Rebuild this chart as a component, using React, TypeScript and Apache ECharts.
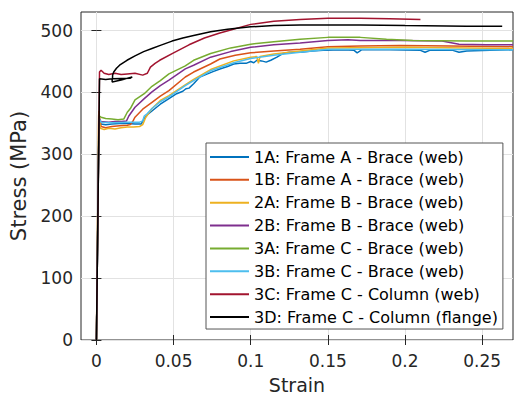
import React, { useEffect, useRef } from "react";
import * as echarts from "echarts";

const seriesNames = [
  "1A: Frame A - Brace (web)",
  "1B: Frame A - Brace (web)",
  "2A: Frame B - Brace (web)",
  "2B: Frame B - Brace (web)",
  "3A: Frame C - Brace (web)",
  "3B: Frame C - Brace (web)",
  "3C: Frame C - Column (web)",
  "3D: Frame C - Column (flange)",
];
const colors = ["#0072BD", "#D95319", "#EDB120", "#7E2F8E", "#77AC30", "#4DBEEE", "#A2142F", "#000000"];

const xTicks = [0, 0.05, 0.1, 0.15, 0.2, 0.25];
const yTicks = [0, 100, 200, 300, 400, 500];

const strain1A = [0, 0.0016, 0.003, 0.006, 0.01, 0.015, 0.02, 0.025, 0.029, 0.031, 0.033, 0.036, 0.0414, 0.047, 0.052, 0.056, 0.058, 0.06, 0.063, 0.067, 0.072, 0.076, 0.08, 0.085, 0.089, 0.093, 0.097, 0.1, 0.102, 0.104, 0.107, 0.11, 0.113, 0.117, 0.121, 0.125, 0.132, 0.14, 0.147, 0.16, 0.167, 0.169, 0.172, 0.19, 0.21, 0.213, 0.216, 0.231, 0.235, 0.24, 0.255, 0.27];
const stress1A = [0, 355, 349, 348, 349, 350, 350, 349, 349, 358, 364, 370, 381, 390, 398, 402, 406, 407, 414, 425, 430, 434, 438, 442, 446, 447, 447, 450, 448, 452, 451, 449, 452, 457, 463, 465, 465, 467, 468, 469, 468, 464, 469, 469, 468, 465, 468, 468, 465, 467, 468, 469];

const strain1B = [0, 0.0015, 0.003, 0.006, 0.01, 0.015, 0.02, 0.022, 0.0235, 0.025, 0.03, 0.036, 0.0414, 0.047, 0.0576, 0.063, 0.074, 0.08, 0.09, 0.1, 0.115, 0.132, 0.15, 0.171, 0.197, 0.23, 0.27];
const stress1B = [0, 368, 345, 343, 345, 346, 347, 348, 353, 360, 373, 384, 394, 403, 425, 433, 446, 454, 460, 464, 467, 470, 474, 475, 476, 475, 474];

const strain2A = [0, 0.0015, 0.0025, 0.005, 0.008, 0.012, 0.016, 0.02, 0.024, 0.028, 0.03, 0.032, 0.036, 0.0414, 0.047, 0.058, 0.063, 0.074, 0.089, 0.1, 0.104, 0.105, 0.106, 0.115, 0.132, 0.15, 0.2, 0.27];
const stress2A = [0, 370, 342, 340, 342, 341, 343, 344, 344, 345, 348, 360, 374, 387, 395, 413, 421, 437, 451, 457, 458, 447, 458, 462, 467, 472, 473, 471];

const strain2B = [0, 0.0017, 0.003, 0.008, 0.012, 0.016, 0.0195, 0.021, 0.025, 0.031, 0.036, 0.0414, 0.047, 0.0576, 0.063, 0.074, 0.087, 0.1, 0.115, 0.132, 0.15, 0.163, 0.171, 0.197, 0.224, 0.235, 0.253, 0.27];
const stress2B = [0, 358, 353, 352, 353, 353, 354, 362, 376, 390, 401, 411, 420, 438, 444, 457, 466, 473, 477, 480, 484, 485, 484, 484, 483, 478, 477, 477];

const strain3A = [0, 0.0017, 0.003, 0.006, 0.01, 0.014, 0.0177, 0.02, 0.022, 0.025, 0.031, 0.036, 0.0414, 0.047, 0.0576, 0.063, 0.074, 0.087, 0.1, 0.115, 0.132, 0.15, 0.171, 0.188, 0.205, 0.24, 0.27];
const stress3A = [0, 362, 360, 358, 357, 356, 357, 368, 374, 388, 398, 410, 419, 430, 443, 452, 463, 472, 478, 482, 486, 489, 489, 486, 484, 483, 483];

const strain3B = [0, 0.0016, 0.003, 0.01, 0.02, 0.028, 0.03, 0.031, 0.033, 0.036, 0.0414, 0.047, 0.0576, 0.063, 0.074, 0.089, 0.1, 0.115, 0.132, 0.15, 0.197, 0.27];
const stress3B = [0, 358, 352, 351, 352, 352, 354, 362, 366, 374, 385, 393, 411, 419, 435, 448, 455, 460, 465, 470, 470, 469];

const strain3C = [0, 0.002, 0.003, 0.005, 0.008, 0.012, 0.016, 0.02, 0.025, 0.03, 0.033, 0.035, 0.038, 0.041, 0.05, 0.06, 0.07, 0.08, 0.087, 0.1, 0.115, 0.132, 0.15, 0.171, 0.19, 0.21];
const stress3C = [0, 433, 436, 431, 429, 431, 429, 430, 431, 428, 431, 441, 447, 452, 464, 477, 488, 496, 501, 510, 515, 518, 520, 520, 519, 518];

const strain3D = [0, 0.002, 0.006, 0.0102, 0.0102, 0.016, 0.0232, 0.022, 0.016, 0.0104, 0.0105, 0.0112, 0.013, 0.015, 0.0198, 0.025, 0.0306, 0.036, 0.0414, 0.049, 0.056, 0.063, 0.074, 0.085, 0.1, 0.115, 0.132, 0.171, 0.2, 0.24, 0.263];
const stress3D = [0, 422, 421, 422, 417, 420, 425, 423, 422.5, 422, 428, 433, 439, 444, 452, 459, 466, 471, 476, 483, 488, 492, 498, 502, 506, 508, 509, 509, 508, 507, 507];

const strains = [strain1A, strain1B, strain2A, strain2B, strain3A, strain3B, strain3C, strain3D];
const stresses = [stress1A, stress1B, stress2A, stress2B, stress3A, stress3B, stress3C, stress3D];

const FONT = "DejaVu Sans";
const AX = "#262626";

export default function App() {
  const ref = useRef<HTMLDivElement>(null);
  useEffect(() => {
    if (!ref.current) return;
    const chart = echarts.init(ref.current, undefined, { renderer: "svg" });
    const series = seriesNames.map((name, i) => ({
      name,
      type: "line",
      xAxisIndex: 0,
      yAxisIndex: 0,
      data: strains[i].map((x, j) => [x, stresses[i][j]]),
      symbol: "none",
      lineStyle: { color: colors[i], width: 1.5 },
      itemStyle: { color: colors[i] },
      clip: true,
    }));
    const baseX = {
      type: "value",
      min: -0.01,
      max: 0.27,
      axisLine: { show: false },
      axisTick: { show: true, inside: true, length: 5, customValues: xTicks, lineStyle: { color: AX } },
    };
    const baseY = {
      type: "value",
      min: 0,
      max: 530,
      axisLine: { show: false },
      axisTick: { show: true, inside: true, length: 5, customValues: yTicks, lineStyle: { color: AX } },
    };
    chart.setOption({
      animation: false,
      backgroundColor: "#ffffff",
      color: colors,
      grid: { left: 81, right: 1, top: 12, bottom: 61, show: true, borderColor: AX, borderWidth: 1, backgroundColor: "transparent" },
      xAxis: [
        {
          ...baseX,
          position: "bottom",
          name: "Strain",
          nameLocation: "middle",
          nameGap: 35,
          nameTextStyle: { fontFamily: FONT, fontSize: 19, color: AX },
          axisLabel: {
            show: true,
            customValues: xTicks,
            margin: 12,
            fontFamily: FONT,
            fontSize: 17,
            color: AX,
            formatter: (v: number) => String(+v.toFixed(3)),
          },
          splitLine: { show: true, lineStyle: { color: "#e2e2e2", width: 1 } },
        },
        { ...baseX, position: "top", axisLabel: { show: false }, splitLine: { show: false } },
      ],
      yAxis: [
        {
          ...baseY,
          position: "left",
          name: "Stress (MPa)",
          nameLocation: "middle",
          nameGap: 40,
          nameTextStyle: { fontFamily: FONT, fontSize: 21, color: AX },
          axisLabel: { show: true, customValues: yTicks, margin: 8, fontFamily: FONT, fontSize: 17, color: AX },
          splitLine: { show: true, lineStyle: { color: "#e2e2e2", width: 1 } },
        },
        { ...baseY, position: "right", axisLabel: { show: false }, splitLine: { show: false } },
      ],
      legend: {
        orient: "vertical",
        left: 206,
        top: 143,
        padding: [6, 5, 4, 4],
        itemWidth: 39,
        itemHeight: 2,
        itemGap: 6.86,
        backgroundColor: "#ffffff",
        borderColor: "#555555",
        borderWidth: 1,
        textStyle: { fontFamily: FONT, fontSize: 16, color: "#000000", lineHeight: 16 },
        data: seriesNames.map((n) => ({ name: n, icon: "path://M0 0H39V2H0Z" })),
      },
      series,
    });
    return () => chart.dispose();
  }, []);
  return <div ref={ref} style={{ position: "fixed", left: 0, top: 0, width: 514, height: 401 }} />;
}
